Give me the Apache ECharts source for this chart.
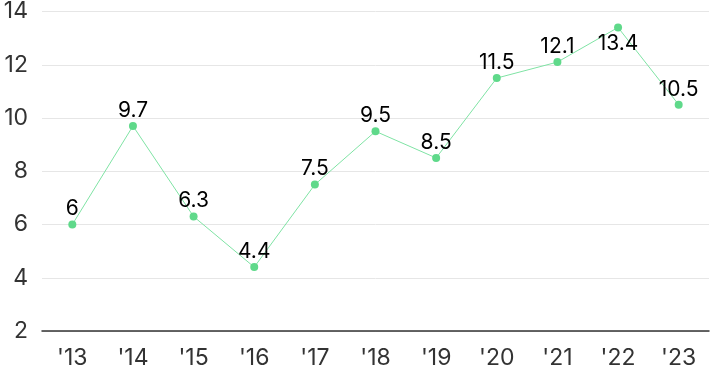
<!DOCTYPE html>
<html><head><meta charset="utf-8">
<script src="https://cdn.jsdelivr.net/npm/echarts@6/dist/echarts.min.js"></script>
<style>html,body{margin:0;padding:0;background:#fff}#c{width:710px;height:371px}</style>
</head><body><div id="c"></div>
<script>
const categories = ["'13","'14","'15","'16","'17","'18","'19","'20","'21","'22","'23"];
const values = [6, 9.7, 6.3, 4.4, 7.5, 9.5, 8.5, 11.5, 12.1, 13.4, 10.5];
const labelsBelow = ["'22"];
const chart = echarts.init(document.getElementById('c'));
chart.setOption({
  animation: false,
  grid: {left: 42, right: 1, top: 7, bottom: 40},
  xAxis: {
    type: 'category', data: categories, boundaryGap: true,
    axisLine: {lineStyle: {color: '#333', width: 1.5}},
    axisTick: {show: false},
    axisLabel: {color: '#333', fontSize: 23, fontFamily: 'Inter', margin: 16}
  },
  yAxis: {
    type: 'value', min: 2, max: 14, interval: 2,
    axisLine: {show: false}, axisTick: {show: false},
    splitLine: {lineStyle: {color: '#e6e6e6'}},
    axisLabel: {color: '#333', fontSize: 23, fontFamily: 'Inter', margin: 14}
  },
  series: [{
    type: 'line',
    data: values.map((v, i) => labelsBelow.includes(categories[i]) ? {value: v, label: {position: 'bottom', distance: 2}} : v),
    symbol: 'circle', symbolSize: 8,
    itemStyle: {color: '#5fd98a'},
    lineStyle: {color: '#7fe3a4', width: 1},
    label: {show: true, position: 'top', color: '#000', fontSize: 21, fontFamily: 'Inter', distance: 1}
  }]
});
</script></body></html>
